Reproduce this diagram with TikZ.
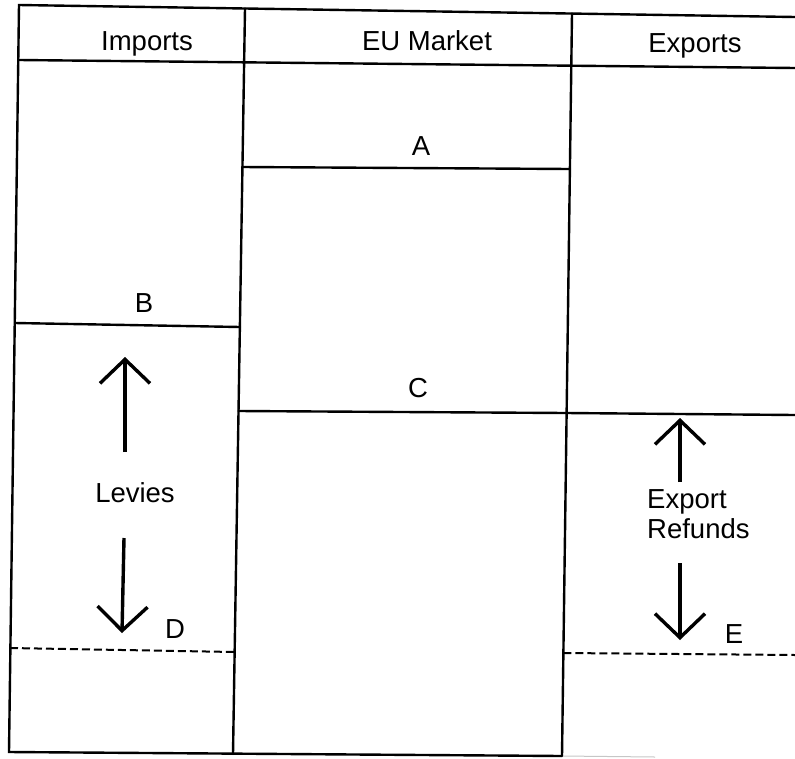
\documentclass[tikz,border=0pt]{standalone}
\usepackage{fontspec}
\setmainfont{Liberation Sans}
\usetikzlibrary{arrows.meta}
\begin{document}
\begin{tikzpicture}[x=1pt,y=-1pt,
  frame/.style={line width=2.4pt,line cap=round},
  dashline/.style={line width=2pt,dash pattern=on 8pt off 4pt},
  lbl/.style={font=\fontsize{27.5}{32}\selectfont,inner sep=0pt,anchor=base},
  bigarrow/.style={line width=3.4pt,-{Straight Barb[length=24pt,width=50pt,line width=3.4pt]}}]
\useasboundingbox (0,0) rectangle (795,758);
% corners
\coordinate (tl) at (19,5);
\coordinate (tr) at (795,17);
\coordinate (hl) at (19,60);
\coordinate (hr) at (795,68);
\coordinate (bl) at (9,752);
\coordinate (d1t) at (245,8.5);
\coordinate (d1b) at (233,754);
\coordinate (d2t) at (572,13.6);
\coordinate (d2b) at (562,756);
% frame
\draw[frame] (tr) -- (tl) -- (bl) -- (d2b);
\draw[gray!45,line width=1pt] (d2b) -- (655,757);
\draw[frame] (hl) -- (hr);
\draw[frame] (d1t) -- (d1b);
\draw[frame] (d2t) -- (d2b);
% level lines
\coordinate (a1) at (242,167);
\coordinate (a2) at (570,169);
\draw[frame] (a1) -- (a2);
\coordinate (b1) at (15,323);
\coordinate (b2) at (240,327);
\draw[frame] (b1) -- (b2);
\coordinate (c1) at (238.5,411);
\coordinate (c2) at (566.5,413);
\coordinate (c3) at (795,415);
\draw[frame] (c1) -- (c2) -- (c3);
\coordinate (dl1) at (10,648);
\coordinate (dl2) at (234.6,652);
\draw[dashline] (dl1) -- (dl2);
\coordinate (el1) at (563.4,653);
\coordinate (el2) at (795,655);
\draw[dashline] (el1) -- (el2);
% headers
\node[lbl] (imp) at (147,50) {Imports};
\node[lbl] (eu) at (427,50) {EU Market};
\node[lbl] (exp) at (695,52) {Exports};
% level labels
\node[lbl] (A) at (421,155) {A};
\node[lbl] (B) at (144,312) {B};
\node[lbl] (C) at (418,397) {C};
\node[lbl] (D) at (175,638) {D};
\node[lbl] (E) at (734,643) {E};
% levies
\node[lbl] (lev) at (135,502) {Levies};
\coordinate (lu0) at (125,452);
\coordinate (lu1) at (125,357);
\draw[bigarrow] (lu0) -- (lu1);
\coordinate (ld0) at (124,538);
\coordinate (ld1) at (122,633);
\draw[bigarrow] (ld0) -- (ld1);
% export refunds
\node[lbl,anchor=base west] (ex1) at (647,508) {Export};
\node[lbl,anchor=base west] (ex2) at (647,538) {Refunds};
\coordinate (eu0) at (680,482);
\coordinate (eu1) at (680,418);
\draw[bigarrow] (eu0) -- (eu1);
\coordinate (ed0) at (680,563);
\coordinate (ed1) at (680,640);
\draw[bigarrow] (ed0) -- (ed1);
\end{tikzpicture}
\end{document}
